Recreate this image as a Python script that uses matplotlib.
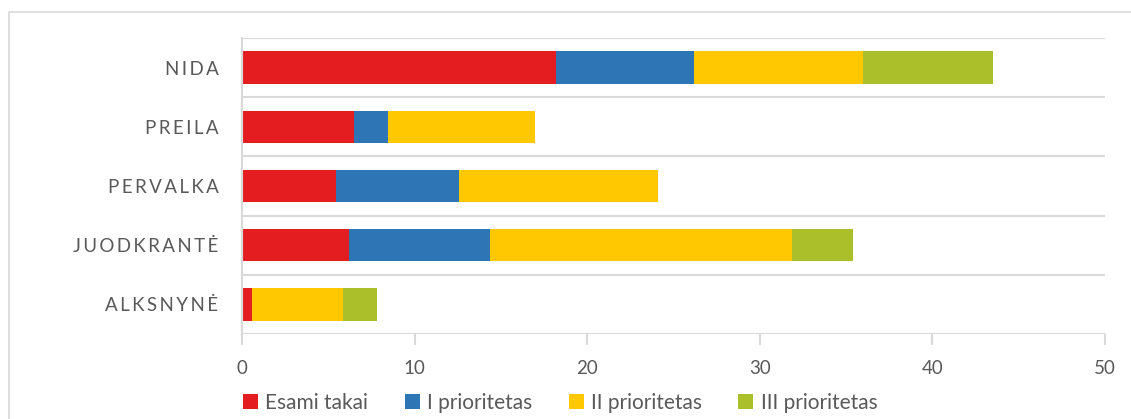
import matplotlib
matplotlib.use("Agg")
import matplotlib.pyplot as plt
from matplotlib.patches import Rectangle, Patch
import numpy as np

categories = ["ALKSNYNĖ", "JUODKRANTĖ", "PERVALKA", "PREILA", "NIDA"]
series_names = ["Esami takai", "I prioritetas", "II prioritetas", "III prioritetas"]
esami = [0.6, 6.2, 5.45, 6.5, 18.2]
prior1 = [0.0, 8.15, 7.15, 1.95, 8.0]
prior2 = [5.25, 17.5, 11.5, 8.5, 9.8]
prior3 = [1.95, 3.55, 0.0, 0.0, 7.5]
colors = ["#E41E20", "#2E75B6", "#FFC800", "#AABF2A"]
xticks = [0, 10, 20, 30, 40, 50]

plt.rcParams['font.family'] = ['Lato', 'DejaVu Sans']
txt = "#595959"
grid = "#D9D9D9"

fig = plt.figure(figsize=(11.31, 4.19), dpi=100)
# outer chart border
fig.add_artist(Rectangle((9/1131, -0.1), 1.2, 1 - 12/419 + 0.1, transform=fig.transFigure,
                         fill=False, edgecolor=grid, lw=1.2))

ax = fig.add_axes([242/1131, 1 - 334/419, (1105 - 242)/1131, (334 - 38)/419])
y = np.arange(len(categories))
left = np.zeros(len(categories))
for vals, c, name in zip([esami, prior1, prior2, prior3], colors, series_names):
    ax.barh(y, vals, left=left, height=0.55, color=c, label=name, edgecolor='none')
    left = left + np.array(vals)

ax.set_xlim(0, 50)
ax.set_ylim(-0.5, len(categories) - 0.5)
for b in np.arange(-0.5, len(categories), 1.0):
    ax.axhline(b, color=grid, lw=1.5, zorder=0)

for s in ["top", "right", "bottom"]:
    ax.spines[s].set_visible(False)
ax.spines["left"].set_color(grid)
ax.spines["left"].set_linewidth(1.5)

ax.set_xticks(xticks)
ax.set_xticklabels([str(t) for t in xticks])
ax.tick_params(axis='x', direction='out', length=8, width=1.5, color=grid,
               labelsize=13.5, labelcolor=txt, pad=11)
ax.set_yticks(y)
ax.set_yticklabels(["\u2009".join(list(c)) for c in categories])
ax.tick_params(axis='y', length=0, labelsize=13.5, labelcolor=txt, pad=17)

handles = [Patch(facecolor=c, edgecolor='none') for c in colors]
leg = fig.legend(handles, series_names, loc='center left',
                 bbox_to_anchor=(243/1131, 1 - 403/419), ncol=4, frameon=False,
                 fontsize=15, handlelength=0.72, handleheight=0.72, handletextpad=0.35,
                 columnspacing=1.75, labelcolor=txt, borderpad=0, borderaxespad=0)

fig.savefig("out.png", dpi=100)
